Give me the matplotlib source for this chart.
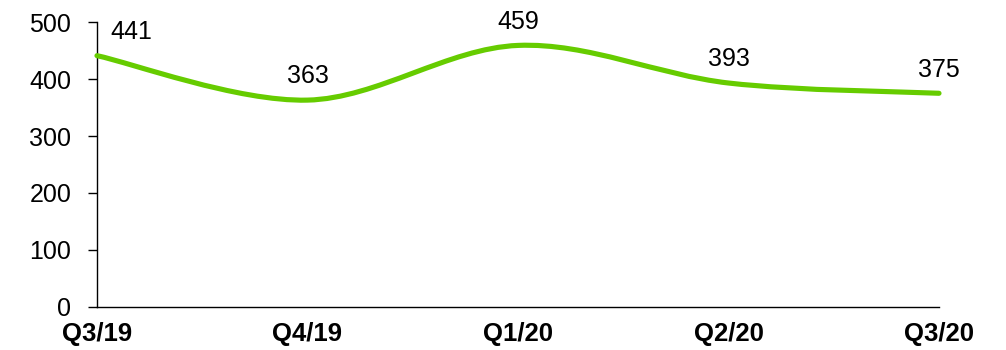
import numpy as np
import matplotlib.pyplot as plt
from matplotlib.path import Path
from matplotlib.patches import PathPatch

plt.rcParams['font.family'] = ['Liberation Sans', 'DejaVu Sans']

quarters = ["Q3/19", "Q4/19", "Q1/20", "Q2/20", "Q3/20"]
values = [441, 363, 459, 393, 375]

fig = plt.figure(figsize=(10.06, 3.5), dpi=100)
ax = fig.add_axes([0.0964, 0.123, 0.837, 0.814])

x = np.arange(len(values), dtype=float)
y = np.array(values, dtype=float)

# smoothed line as cubic bezier segments (catmull-rom style control points)
verts = [(x[0], y[0])]
codes = [Path.MOVETO]
n = len(x)
for i in range(n - 1):
    p0 = np.array([x[max(i - 1, 0)], y[max(i - 1, 0)]])
    p1 = np.array([x[i], y[i]])
    p2 = np.array([x[i + 1], y[i + 1]])
    p3 = np.array([x[min(i + 2, n - 1)], y[min(i + 2, n - 1)]])
    c1 = p1 + (p2 - p0) / 6
    c2 = p2 - (p3 - p1) / 6
    verts += [tuple(c1), tuple(c2), tuple(p2)]
    codes += [Path.CURVE4] * 3
patch = PathPatch(Path(verts, codes), facecolor="none", edgecolor="#66cc00",
                  lw=3.7, capstyle="round", joinstyle="round", clip_on=False, zorder=3)
ax.add_patch(patch)

for i, v in enumerate(values):
    dx = 25 if i == 0 else 0
    ax.annotate(str(v), (x[i], v), xytext=(dx, 12), textcoords="offset points",
                ha="center", va="baseline", fontsize=18)

ax.set_xlim(0, 4)
ax.set_ylim(0, 500)
ax.set_yticks(range(0, 501, 100))
ax.set_xticks(x)
ax.set_xticklabels(quarters, fontweight="bold", fontsize=18.5)
ax.tick_params(axis="y", labelsize=18, length=6.5, width=1.0, direction="out", pad=12)
ax.tick_params(axis="x", length=0, pad=11)
for s in ["top", "right"]:
    ax.spines[s].set_visible(False)
for s in ["left", "bottom"]:
    ax.spines[s].set_linewidth(1.0)

fig.savefig("out.png", dpi=100)
